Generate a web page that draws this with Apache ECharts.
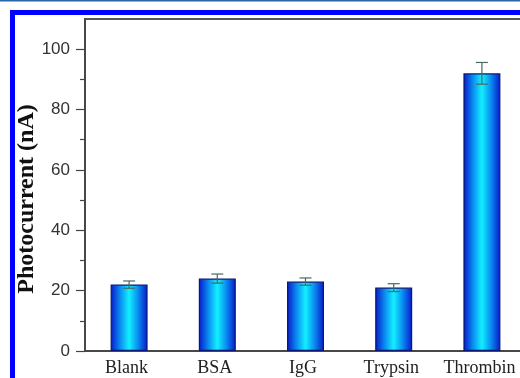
<!DOCTYPE html>
<html>
<head>
<meta charset="utf-8">
<script src="https://cdn.jsdelivr.net/npm/echarts@6/dist/echarts.min.js"></script>
<style>
  html, body { margin: 0; padding: 0; background: #fff; }
  #chart { width: 520px; height: 378px; }
</style>
</head>
<body>
<div id="chart"></div>
<script>
// Photocurrent response for each protein sample
const categories = ['Blank', 'BSA', 'IgG', 'Trypsin', 'Thrombin'];
const photocurrent = [22, 24, 23, 21, 92];
const errors = [1.2, 1.5, 1.2, 1.3, 3.6];
const yTicks = [0, 20, 40, 60, 80, 100];

const chart = echarts.init(document.getElementById('chart'));

const barGradient = new echarts.graphic.LinearGradient(0, 0, 1, 0, [
  { offset: 0, color: '#0818c8' },
  { offset: 0.25, color: '#0a88f0' },
  { offset: 0.5, color: '#12f0ff' },
  { offset: 0.75, color: '#0a88f0' },
  { offset: 1, color: '#0818c8' }
]);

chart.setOption({
  backgroundColor: '#fff',
  animation: false,
  graphic: [
    { type: 'rect', shape: { x: 0, y: 0, width: 520, height: 1.5 }, style: { fill: '#2a64a8' }, silent: true },
    { type: 'rect', shape: { x: 10, y: 10, width: 510, height: 5 }, style: { fill: '#0000ff' }, silent: true },
    { type: 'rect', shape: { x: 10, y: 10, width: 5, height: 368 }, style: { fill: '#0000ff' }, silent: true }
  ],
  grid: {
    left: 85, width: 441, top: 19, bottom: 27,
    outerBoundsMode: 'none',
    containLabel: false,
    show: true, borderColor: '#555', borderWidth: 2, backgroundColor: 'transparent'
  },
  xAxis: {
    type: 'category',
    data: categories,
    axisLine: { lineStyle: { color: '#444', width: 1.5 } },
    axisTick: { show: false },
    axisLabel: {
      interval: 0, hideOverlap: false,
      color: '#222', fontFamily: 'Liberation Serif', fontSize: 18, margin: 8,
      padding: [0, 5, 0, 0]
    }
  },
  yAxis: {
    type: 'value',
    min: 0, max: 110, interval: 20,
    name: 'Photocurrent (nA)',
    nameLocation: 'middle',
    nameGap: 46,
    nameMoveOverlap: false,
    nameTextStyle: {
      fontFamily: 'Liberation Serif', fontWeight: 'bold', fontSize: 24, color: '#111',
      padding: [0, 28, 0, 0]
    },
    axisLine: { show: true, lineStyle: { color: '#444', width: 1.5 } },
    axisTick: { show: true, length: 9, lineStyle: { color: '#444', width: 1.2 },
      customValues: yTicks },
    minorTick: { show: true, splitNumber: 2, length: 5, lineStyle: { color: '#444', width: 1.2 } },
    splitLine: { show: false },
    axisLabel: {
      color: '#333', fontFamily: 'Liberation Sans', fontSize: 17, margin: 15,
      customValues: yTicks
    }
  },
  series: [
    {
      type: 'bar',
      data: photocurrent,
      barWidth: 37,
      itemStyle: { color: barGradient, borderColor: '#0a1870', borderWidth: 1.2 },
      z: 2
    },
    {
      type: 'custom',
      z: 3,
      data: photocurrent.map((v, i) => [i, v - errors[i], v + errors[i]]),
      renderItem: function (params, api) {
        const lo = api.coord([api.value(0), api.value(1)]);
        const hi = api.coord([api.value(0), api.value(2)]);
        const half = 6;
        const style = { stroke: '#4a6a5c', lineWidth: 1.2 };
        return {
          type: 'group',
          children: [
            { type: 'line', shape: { x1: lo[0], y1: lo[1], x2: hi[0], y2: hi[1] }, style },
            { type: 'line', shape: { x1: hi[0] - half, y1: hi[1], x2: hi[0] + half, y2: hi[1] }, style },
            { type: 'line', shape: { x1: lo[0] - half, y1: lo[1], x2: lo[0] + half, y2: lo[1] }, style }
          ]
        };
      }
    }
  ]
});
</script>
</body>
</html>
